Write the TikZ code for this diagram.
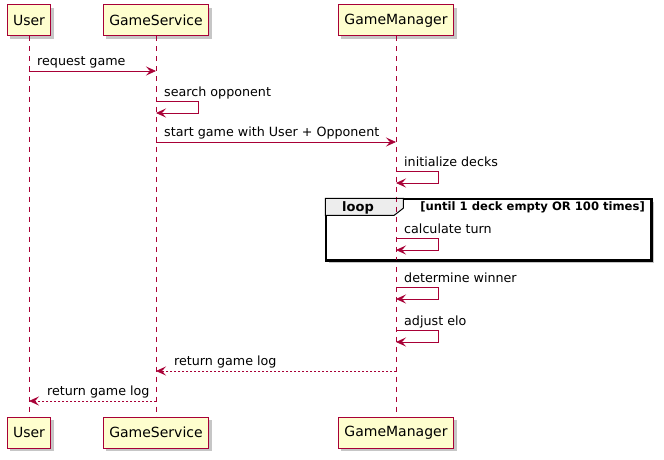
\documentclass[tikz,border=0pt]{standalone}
\usepackage{fontspec}
\setmainfont{DejaVu Sans}
\usetikzlibrary{arrows.meta,shadows}
\definecolor{umlred}{HTML}{A80036}
\definecolor{umlfill}{HTML}{FEFECE}
\begin{document}
\begin{tikzpicture}[x=1pt,y=-1pt]
    \def\xu{29}
    \def\xs{156}
    \def\xm{396}
    \def\dl{42}

    \tikzstyle{actor}=[draw=umlred,fill=umlfill,line width=1pt,minimum height=31pt,inner xsep=6pt,font=\fontsize{14}{16}\selectfont,drop shadow={shadow xshift=3pt,shadow yshift=-3pt,opacity=0.45}]
    \tikzstyle{life}=[draw=umlred,line width=0.8pt,dash pattern=on 5pt off 5pt]
    \tikzstyle{msg}=[draw=umlred,line width=0.8pt,-{Stealth[length=10pt,width=9pt,inset=4pt]}]
    \tikzstyle{ret}=[msg,dash pattern=on 2pt off 2pt]
    \tikzstyle{lbl}=[anchor=base west,inner sep=0pt,font=\fontsize{12.7}{15}\selectfont]
    \tikzstyle{frame}=[draw=black,line width=1.5pt,fill=white,minimum width=325pt,minimum height=61pt,drop shadow={shadow xshift=3pt,shadow yshift=-3pt,opacity=0.45}]
    \tikzstyle{tab}=[draw=black,line width=1pt,fill=black!7]

    \useasboundingbox (0,0) rectangle (664,460);

    % loop frame
    \node[frame] (loopbox) at (488.5,229.5) {};
    \draw[tab] (loopbox.north west) -- ++(78,0) -- ++(0,10) -- ++(-9,7) -- ++(-69,0) -- cycle;
    \node[anchor=base west,inner sep=0pt,font=\fontsize{13}{15}\selectfont\bfseries] (looplbl) at (342,211.5) {loop};
    \node[anchor=base east,inner sep=0pt,font=\fontsize{11.6}{13}\selectfont\bfseries] (loopcond) at (645,210) {[until 1 deck empty OR 100 times]};

    % participants
    \node[actor] (user)  at (\xu,20.5) {User};
    \node[actor] (gs)    at (\xs,20.5) {GameService};
    \node[actor] (gm)    at (\xm,20.5) {GameManager};
    \node[actor] (userB) at (\xu,432.5) {User};
    \node[actor] (gsB)   at (\xs,432.5) {GameService};
    \node[actor] (gmB)   at (\xm,432.5) {GameManager};

    \draw[life] (user) -- (userB);
    \draw[life] (gs) -- (gsB);
    \draw[life] (gm) -- (gmB);
    \draw[draw=black,line width=1.5pt] (loopbox.north west) rectangle (loopbox.south east);

    % messages
    \coordinate (m1a) at (\xu,71);
    \coordinate (m1b) at (\xs,71);
    \draw[msg] (m1a) -- (m1b);
    \node[lbl] (t1) at (\xu+8,65.5) {request game};

    \coordinate (m2a) at (\xs,101);
    \coordinate (m2b) at (\xs,113);
    \draw[msg] (m2a) -- ++(\dl,0) |- (m2b);
    \node[lbl] (t2) at (\xs+8,96) {search opponent};

    \coordinate (m3a) at (\xs,142);
    \coordinate (m3b) at (\xm,142);
    \draw[msg] (m3a) -- (m3b);
    \node[lbl] (t3) at (\xs+8,136.5) {start game with User + Opponent};

    \coordinate (m4a) at (\xm,171);
    \coordinate (m4b) at (\xm,183);
    \draw[msg] (m4a) -- ++(\dl,0) |- (m4b);
    \node[lbl] (t4) at (\xm+8,166) {initialize decks};

    \coordinate (m5a) at (\xm,238);
    \coordinate (m5b) at (\xm,250);
    \draw[msg] (m5a) -- ++(\dl,0) |- (m5b);
    \node[lbl] (t5) at (\xm+8,233) {calculate turn};

    \coordinate (m6a) at (\xm,287);
    \coordinate (m6b) at (\xm,299);
    \draw[msg] (m6a) -- ++(\dl,0) |- (m6b);
    \node[lbl] (t6) at (\xm+8,282) {determine winner};

    \coordinate (m7a) at (\xm,330);
    \coordinate (m7b) at (\xm,342);
    \draw[msg] (m7a) -- ++(\dl,0) |- (m7b);
    \node[lbl] (t7) at (\xm+8,325) {adjust elo};

    \coordinate (m8a) at (\xm,371);
    \coordinate (m8b) at (\xs,371);
    \draw[ret] (m8a) -- (m8b);
    \node[lbl] (t8) at (\xs+18,365.5) {return game log};

    \coordinate (m9a) at (\xs,401);
    \coordinate (m9b) at (\xu,401);
    \draw[ret] (m9a) -- (m9b);
    \node[lbl] (t9) at (\xu+18,395.5) {return game log};

\end{tikzpicture}
\end{document}
